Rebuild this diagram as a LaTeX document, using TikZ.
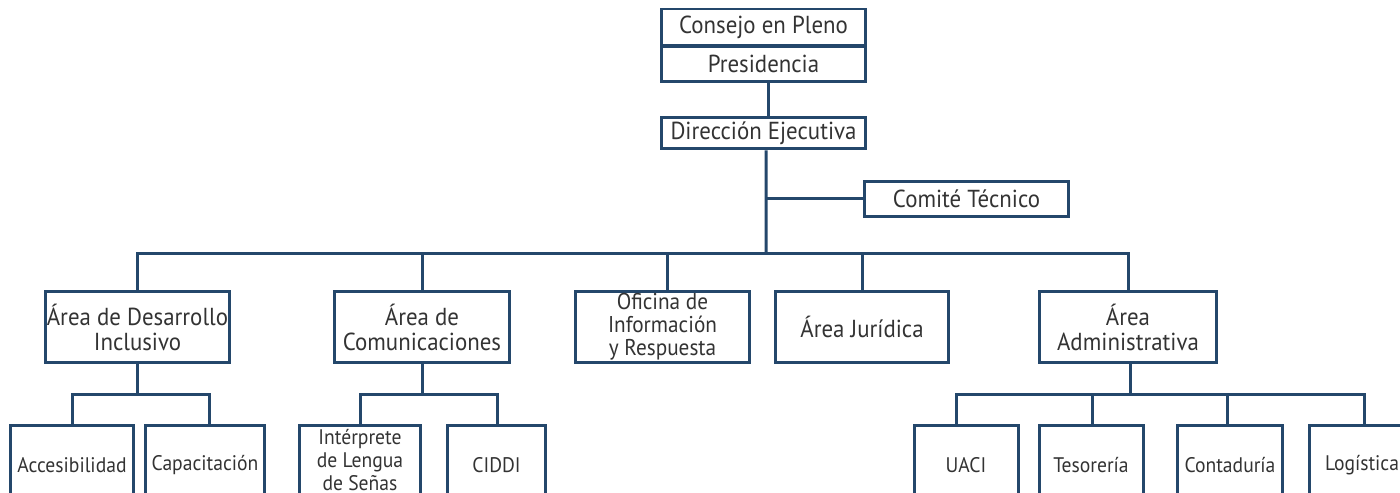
\documentclass[tikz,border=0pt]{standalone}
\usepackage{fontspec}
\setmainfont{PT Sans}[FakeStretch=0.93]
\usepackage{tikz}
\usetikzlibrary{positioning}

\definecolor{orgblue}{HTML}{24476B}
\definecolor{orgtext}{HTML}{333333}

\begin{document}
\begin{tikzpicture}[x=0.02cm, y=-0.02cm,
    box/.style={draw=orgblue, line width=0.06cm, text=orgtext, align=center,
        inner sep=1pt, font=\fontsize{14}{14.2}\selectfont},
    small/.style={font=\fontsize{12}{13}\selectfont},
    link/.style={draw=orgblue, line width=0.06cm}]

    \useasboundingbox (0,0) rectangle (1400,493);
    \clip (0,0) rectangle (1400,493);

    % top
    \node (consejo) [box, minimum width=4.1cm, minimum height=0.74cm] at (763.5,27.5) {Consejo en Pleno};
    \node (presidencia) [box, minimum width=4.1cm, minimum height=0.72cm] at (763.5,64) {Presidencia};
    \node (direccion) [box, minimum width=4.1cm, minimum height=0.64cm] at (763.5,133) {Dirección Ejecutiva};
    \node (comite) [box, minimum width=4.1cm, minimum height=0.72cm] at (966.5,199) {Comité Técnico};

    % second level
    \node (desarrollo) [box, minimum width=3.58cm, minimum height=1.44cm] at (137.5,327) {Área de Desarrollo\\Inclusivo};
    \node (comunic) [box, minimum width=3.52cm, minimum height=1.44cm] at (422,327) {Área de\\Comunicaciones};
    \node (oficina) [box, minimum width=3.5cm, minimum height=1.44cm, font=\fontsize{13}{13}\selectfont] at (662.5,327) {Oficina de\\Información\\y Respuesta};
    \node (juridica) [box, minimum width=3.48cm, minimum height=1.44cm] at (862,327) {Área Jurídica};
    \node (admin) [box, minimum width=3.56cm, minimum height=1.44cm] at (1128,327) {Área\\Administrativa};

    % third level
    \node (acces) [box, small, minimum width=2.48cm, minimum height=1.6cm] at (72,465) {Accesibilidad};
    \node (capac) [box, small, minimum width=2.38cm, minimum height=1.6cm] at (205,465) {Capacitación};
    \node (interp) [box, small, minimum width=2.42cm, minimum height=1.6cm] at (360,465) {Intérprete\\de Lengua\\de Señas\\[-7pt]\mbox{}};
    \node (ciddi) [box, small, minimum width=1.98cm, minimum height=1.6cm] at (496.5,465) {CIDDI};
    \node (uaci) [box, small, minimum width=2.08cm, minimum height=1.6cm] at (966,465) {UACI};
    \node (tesor) [box, small, minimum width=2.08cm, minimum height=1.6cm] at (1091,465) {Tesorería};
    \node (contad) [box, small, minimum width=2.1cm, minimum height=1.6cm] at (1230,465) {Contaduría};
    \node (logist) [box, small, minimum width=2.1cm, minimum height=1.6cm] at (1362,465) {Logística};

    % connectors
    \coordinate (hub) at (766,254);
    \draw[link] ([xshift=0.1cm]presidencia.south) -- ([xshift=0.1cm]direccion.north);
    \draw[link] ([xshift=0.05cm]direccion.south) -- (hub);
    \draw[link] (hub |- comite.west) -- (comite.west);
    \draw[link] (desarrollo.north) |- (admin.north |- hub) -- (admin.north);
    \draw[link] (comunic.north) -- (comunic.north |- hub);
    \draw[link] ([xshift=0.1cm]oficina.north) -- ++(0,-37);
    \draw[link] (juridica.north) -- (juridica.north |- hub);

    \coordinate (d1) at (72,394);
    \coordinate (d2) at (209,394);
    \draw[link] (desarrollo.south) -- (desarrollo.south |- d1);
    \draw[link] (d1 |- acces.north) -- (d1) -- (d2) -- (d2 |- capac.north);

    \coordinate (c1) at (360,394);
    \coordinate (c2) at (497,394);
    \draw[link] (comunic.south) -- (comunic.south |- c1);
    \draw[link] (c1 |- interp.north) -- (c1) -- (c2) -- (c2 |- ciddi.north);

    \coordinate (a1) at (956,394);
    \coordinate (a2) at (1092,394);
    \coordinate (a3) at (1227,394);
    \coordinate (a4) at (1364,394);
    \draw[link] ([xshift=0.04cm]admin.south) -- ++(0,31);
    \draw[link] (a1 |- uaci.north) -- (a1) -- (a4) -- (a4 |- logist.north);
    \draw[link] (a2) -- (a2 |- tesor.north);
    \draw[link] (a3) -- (a3 |- contad.north);
\end{tikzpicture}
\end{document}
